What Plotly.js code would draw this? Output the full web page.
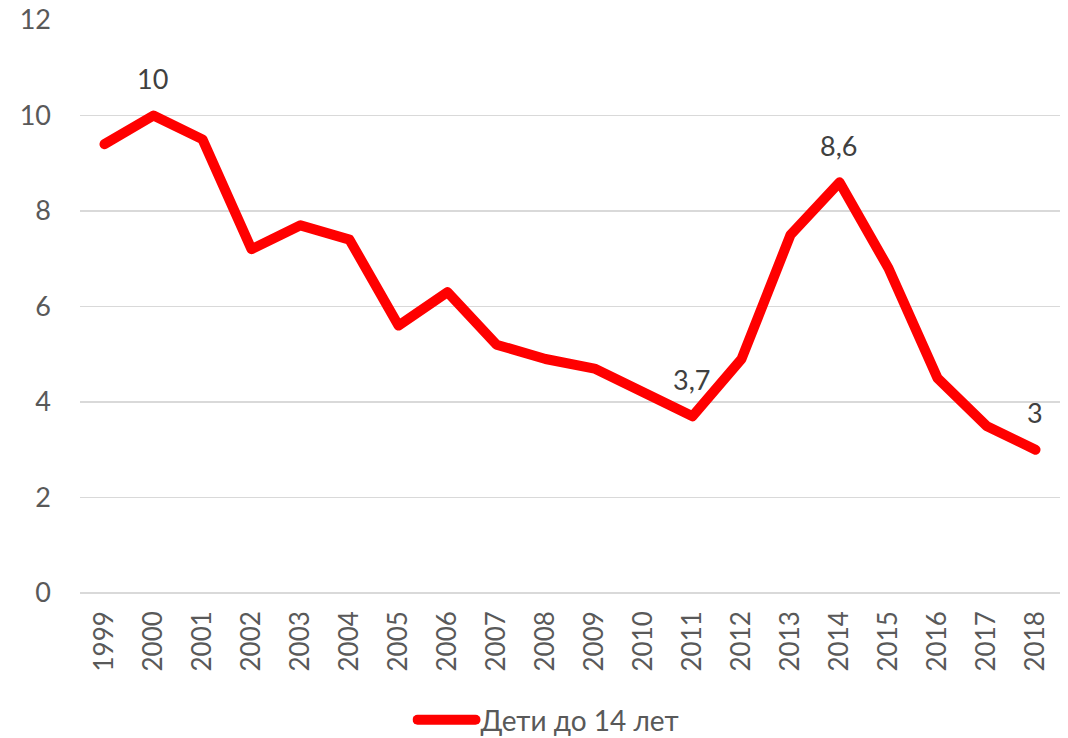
<!DOCTYPE html>
<html>
<head>
<meta charset="utf-8">
<script src="https://cdn.plot.ly/plotly-3.0.1.min.js"></script>
<style>html,body{margin:0;padding:0;background:#fff}#chart{width:1068px;height:738px}</style>
</head>
<body>
<div id="chart"></div>
<script>
var years = ["1999","2000","2001","2002","2003","2004","2005","2006","2007","2008","2009","2010","2011","2012","2013","2014","2015","2016","2017","2018"];
var values = [9.4,10,9.5,7.2,7.7,7.4,5.6,6.3,5.2,4.9,4.7,4.2,3.7,4.9,7.5,8.6,6.8,4.5,3.5,3.0];
var seriesName = "Дети до 14 лет";
var labeledYears = ["2000","2011","2014","2018"];

var font = "Lato, Carlito, Calibri, sans-serif";
var ann = labeledYears.map(function(y){
  var i = years.indexOf(y);
  var v = values[i];
  return {x:i, y:v, xref:'x', yref:'y', text:String(v).replace('.',','), showarrow:false,
    yshift:37, xshift:-1, font:{family:font,size:27,color:'#404040'}};
});

Plotly.newPlot('chart', [{
  x: years, y: values, type:'scatter', mode:'lines', name: seriesName,
  line:{color:'#FF0000', width:10, shape:'linear'}
}], {
  width:1068, height:738,
  margin:{l:80, r:8, t:20, b:145},
  paper_bgcolor:'#fff', plot_bgcolor:'#fff',
  separators:', ',
  showlegend:true,
  legend:{orientation:'h', xref:'container', yref:'container', x:0.5136, xanchor:'center', y:0.0244, yanchor:'middle',
    itemwidth:58, font:{family:font,size:28,color:'#595959'}},
  xaxis:{type:'category', range:[-0.5,19.5], tickangle:-90, showgrid:false, zeroline:false, showline:false,
    ticks:'', ticklabelstandoff:12, tickfont:{family:font,size:26,color:'#595959'}, automargin:false},
  yaxis:{range:[0,12], dtick:2, showgrid:true, gridcolor:'#d9d9d9', gridwidth:1.3,
    zeroline:true, zerolinecolor:'#d9d9d9', zerolinewidth:1.3, showline:false, ticks:'', ticklabelstandoff:28,
    tickfont:{family:font,size:27,color:'#595959'}, automargin:false},
  annotations: ann
}, {displayModeBar:false, staticPlot:true}).then(function(gd){
  gd.querySelectorAll('.scatterlayer path.js-line, .legend path.js-line').forEach(function(p){
    p.style.strokeLinecap = 'round';
    p.style.strokeLinejoin = 'round';
  });
});
</script>
</body>
</html>
